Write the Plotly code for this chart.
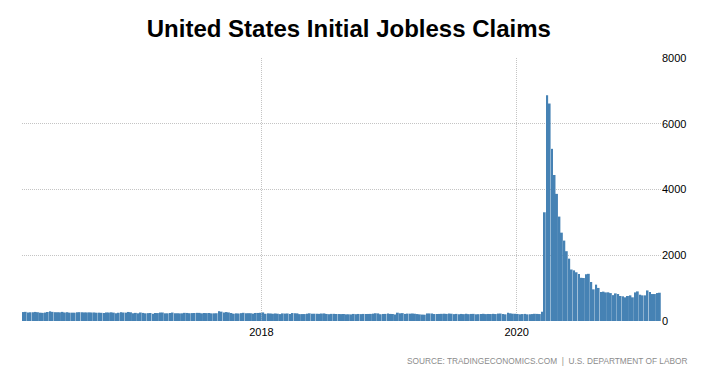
import pandas as pd
import plotly.graph_objects as go

# Weekly initial jobless claims (thousands), week ending Saturday, from 2016-02-20
claims_2016 = [272, 278, 259, 265, 265, 276, 267, 253, 248, 257, 274, 294, 278, 268, 267,
               264, 277, 259, 268, 254, 254, 253, 266, 269, 266, 262, 261, 263, 259, 260,
               252, 254, 249, 246, 260, 258, 265, 254, 235, 251, 268, 258, 254, 275, 265, 235]
claims_2017 = [247, 234, 259, 246, 234, 239, 244, 223, 243, 241, 258, 258, 234, 234, 244,
               257, 238, 236, 232, 234, 248, 245, 237, 241, 244, 248, 247, 233, 244, 240,
               244, 232, 234, 236, 298, 284, 259, 272, 260, 243, 222, 233, 229, 239, 249,
               239, 238, 236, 225, 245, 245, 250]
claims_2018 = [261, 220, 233, 230, 221, 230, 222, 210, 231, 226, 229, 215, 242, 233, 232,
               209, 211, 211, 222, 234, 221, 222, 218, 218, 227, 231, 214, 207, 217, 218,
               213, 212, 210, 213, 203, 204, 201, 215, 207, 214, 210, 215, 214, 214, 216,
               224, 235, 231, 206, 214, 216, 231]
claims_2019 = [216, 213, 199, 253, 234, 239, 216, 225, 223, 229, 221, 211, 202, 196, 192,
               230, 230, 228, 212, 211, 215, 218, 222, 216, 227, 221, 209, 216, 206, 215,
               209, 220, 209, 215, 217, 204, 208, 213, 219, 210, 214, 212, 218, 211, 225,
               227, 213, 203, 252, 234, 222, 220]
claims_2020 = [214, 204, 211, 216, 203, 206, 211, 219, 216, 211, 282, 3307, 6867, 6615,
               5237, 4442, 3867, 3176, 2687, 2446, 2123, 1897, 1566, 1540, 1482, 1427, 1314,
               1307, 1422, 1435, 1186, 963, 1106, 1006, 881, 893, 870, 873, 849, 787, 840,
               820, 760, 751, 720, 760, 780, 720, 870, 900, 800, 780]
claims_2021 = [780, 930, 880, 820, 820, 850, 860]

claims = claims_2016 + claims_2017 + claims_2018 + claims_2019 + claims_2020 + claims_2021
weeks = pd.date_range("2016-02-20", periods=len(claims), freq="W-SAT")

y_ticks = [0, 2000, 4000, 6000, 8000]

fig = go.Figure(go.Bar(
    x=weeks, y=claims,
    marker=dict(color="#4682b4", line=dict(width=0)),
))

# page body has an 8px margin, so the figure is sized/offset to compensate
fig.update_layout(
    width=697, height=373,
    margin=dict(l=14, r=44, t=50, b=60),
    paper_bgcolor="white", plot_bgcolor="white",
    bargap=0.2,
    showlegend=False,
    title=dict(text="<b>United States Initial Jobless Claims</b>",
               x=0.489, xanchor="center", y=0.944, yanchor="middle",
               font=dict(family="Liberation Sans", size=24, color="black")),
    font=dict(family="Liberation Sans", size=11, color="black"),
)
fig.update_xaxes(
    type="date", tick0="2016-01-01", dtick="M24", tickformat="%Y",
    showgrid=True, gridcolor="#c4c4c4", griddash="1px,1px", gridwidth=1,
    showline=False, zeroline=False, ticks="", ticklabelstandoff=3,
    tickfont=dict(size=11, color="black"),
)
fig.update_yaxes(
    side="right", range=[0, 8000], tickvals=y_ticks,
    showgrid=True, gridcolor="#c4c4c4", griddash="1px,1px", gridwidth=1,
    zeroline=False, showline=False, ticks="",
    tickfont=dict(size=11, color="black"),
)
fig.add_annotation(
    text="SOURCE: TRADINGECONOMICS.COM  |  U.S. DEPARTMENT OF LABOR",
    xref="paper", yref="paper", x=1.0438, y=-0.152, xanchor="right", yanchor="middle",
    showarrow=False,
    font=dict(family="Liberation Sans", size=8.3, color="#8c8c8c"),
)

fig.write_html("out.html")
